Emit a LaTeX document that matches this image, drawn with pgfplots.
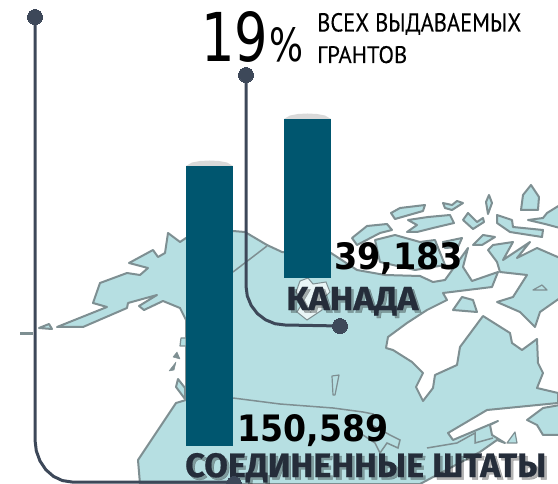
\documentclass[border=0pt]{standalone}
\usepackage{pgfplots}
\pgfplotsset{compat=1.18}
\usepackage{fontspec}
\setmainfont{Noto Sans}
\newfontfamily\condf[FakeBold=0.2]{PT Sans}
\newfontfamily\lightf{DejaVu Sans}
\newfontfamily\numf{DejaVu Sans}
\newfontfamily\headf[BoldFeatures={FakeBold=0.6}]{Fira Sans}
\definecolor{land}{HTML}{B6DFE2}
\definecolor{coast}{HTML}{7E8F92}
\definecolor{bar}{HTML}{00566F}
\definecolor{cap}{HTML}{D9D9D9}
\definecolor{lead}{HTML}{3D4859}
\definecolor{head}{HTML}{252D3A}
\pgfplotsset{isle/.style={draw=coast,fill=land,line width=2pt,line join=round}}
\newcommand{\shadowtext}[5]{% x, baseline, w, h, text
  \node[anchor=base west,inner sep=0pt,text=black,opacity=0.3] at (axis cs:#1+2.5,#2+2.5) {\resizebox{#3pt}{#4pt}{\headf\bfseries #5}};
  \node[anchor=base west,inner sep=0pt,text=head] at (axis cs:#1,#2) {\resizebox{#3pt}{#4pt}{\headf\bfseries #5}};
}
\begin{document}
\begin{tikzpicture}
\useasboundingbox (0,0) rectangle (558pt,484pt);
\begin{axis}[at={(0,0)},anchor=south west,scale only axis,width=558pt,height=484pt,
  xmin=0,xmax=558,ymin=0,ymax=484,y dir=reverse,hide axis,clip=false]
% mainland
\addplot[isle] coordinates {(57,327)(83,327)(127,308)(128,303)(157,295)(139,306)(144,310)(163,301)(180,308)(186,320)(186,400)(176,403)(138,460)(140,484)(420,484)(435,476)(480,452)(497,440)(505,443)(492,435)(490,425)(498,421)(453,440)(448,433)(487,410)(558,403)(558,393)(537,388)(543,373)(538,363)(537,339)(522,350)(512,343)(510,333)(483,316)(460,347)(457,365)(435,375)(433,388)(423,401)(416,387)(423,373)(412,362)(393,350)(386,348)(388,337)(407,323)(427,310)(447,300)(443,293)(492,287)(498,272)(472,281)(463,267)(468,248)(445,280)(433,282)(420,276)(385,275)(357,270)(331,253)(282,252)(267,245)(245,232)(233,231)(186,238)(180,242)(168,233)(165,253)(158,257)(153,250)(129,263)(148,268)(140,275)(127,273)(100,283)(93,303)(107,307)(57,327)} --cycle;
% interior lines
\addplot[draw=coast,line width=1.5pt] coordinates {(233,272)(267,246)};
\addplot[draw=coast,line width=1.5pt] coordinates {(233,398)(280,404)(333,408)(363,412)(373,414)(372,425)(390,435)(400,440)(398,448)(387,443)(380,453)(375,443)(360,433)};
\addplot[draw=coast,line width=1.5pt] coordinates {(427,448)(457,443)(475,433)(475,443)(493,438)};
\addplot[draw=coast,line width=1pt,fill=white!70!land] coordinates {(300,281)(308,278)(313,284)(326,282)(330,292)(322,300)(322,310)(307,320)(297,312)(303,302)(296,292)} --cycle;
% pacific islands
\addplot[isle] coordinates {(39,328)(49,324)(52,329)} --cycle;
\addplot[isle,line width=1.2pt] coordinates {(181,338)(186,338)(186,346)(180,346)} --cycle;
\addplot[isle,fill=coast,line width=.5pt] coordinates {(177,352)(180,359)(173,357)} --cycle;
\addplot[isle,fill=coast,line width=.5pt] coordinates {(176,362)(169,371)(174,370)} --cycle;
\addplot[isle] coordinates {(178,379)(185,388)(185,399)(176,387)} --cycle;
\addplot[isle,line width=1.2pt] coordinates {(332,376)(339,375)(335,395)(333,395)} --cycle;
% arctic islands
\addplot[isle] coordinates {(391,213)(400,208)(425,205)(423,211)(395,219)} --cycle;
\addplot[isle] coordinates {(443,203)(452,205)(457,201)(463,203)(452,210)(445,208)} --cycle;
\addplot[isle] coordinates {(408,220)(428,217)(450,215)(454,223)(433,228)(417,232)(407,232)(417,225)} --cycle;
\addplot[isle] coordinates {(468,213)(477,222)(483,218)(484,222)(473,229)(463,220)} --cycle;
\addplot[isle] coordinates {(489,195)(492,203)(488,214)(486,202)} --cycle;
\addplot[isle] coordinates {(497,215)(512,220)(513,227)(543,230)(542,237)(510,232)(497,223)} --cycle;
\addplot[isle] coordinates {(531,185)(539,197)(538,210)(521,210)(523,195)} --cycle;
\addplot[isle] coordinates {(560,205)(547,213)(543,218)(528,220)(545,224)(560,228)} --cycle;
\addplot[isle] coordinates {(352,238)(367,226)(387,224)(392,230)(380,233)(357,245)} --cycle;
\addplot[isle] coordinates {(375,240)(395,235)(420,242)(435,240)(445,265)(415,270)(380,262)} --cycle;
\addplot[isle] coordinates {(443,242)(462,238)(458,247)(445,248)} --cycle;
\addplot[isle] coordinates {(473,245)(483,235)(495,237)(482,245)} --cycle;
\addplot[isle] coordinates {(488,250)(493,245)(513,242)(503,260)(530,242)(517,258)(537,248)(560,258)(560,298)(540,312)(535,327)(520,312)(497,302)(513,297)(527,275)(500,272)(497,262)} --cycle;
\addplot[isle,line width=1.2pt] coordinates {(533,290)(542,285)(547,290)} --cycle;
\addplot[isle] coordinates {(453,310)(462,297)(473,300)(477,312)} --cycle;
\addplot[isle] coordinates {(527,420)(543,408)(560,405)(560,435)(543,435)(537,425)} --cycle;
\addplot[isle,line width=1.2pt] coordinates {(515,432)(517,443)(507,443)} --cycle;
% bars with caps
\addplot[draw=none,fill=cap] coordinates {(186,166)(192,162.5)(200,161)(209.5,160.5)(219,161)(227,162.5)(233,166)} --cycle;
\addplot[draw=none,fill=cap] coordinates {(284,119)(290,115.5)(298,114)(307.5,113.5)(317,114)(325,115.5)(331,119)} --cycle;
\addplot[draw=none,fill=bar] coordinates {(186,166)(233,166)(233,446)(186,446)} --cycle;
\addplot[draw=none,fill=bar] coordinates {(284,119)(331,119)(331,278)(284,278)} --cycle;
% leader lines
\addplot[draw=coast,line width=3pt] coordinates {(20,334)(33,334)};
\addplot[draw=lead,line width=3pt] coordinates {(35,17)(35,440)(36.3,450.9)(40,461)(45.8,469.7)(53.5,476.4)(62.4,480.6)(72,482)(233,482)};
\addplot[draw=lead,line width=3pt] coordinates {(246,75)(246,286)(247.3,296)(251.2,305.5)(257.4,313.6)(265.5,319.8)(274.9,323.7)(285,325)(340,326)};
\addplot[only marks,mark=*,mark size=7.5pt,mark options={fill=lead,draw=lead,line width=0pt}] coordinates {(35,17)(246,75)(340,326)(234,484)};
% texts
\node[anchor=base west,inner sep=0pt] at (axis cs:201,62) {\resizebox{67pt}{50pt}{\lightf 19}};
\node[anchor=base west,inner sep=0pt] at (axis cs:269,62) {\resizebox{34pt}{34pt}{\lightf\%}};
\node[anchor=base west,inner sep=0pt] at (axis cs:317,31.5) {\resizebox{204pt}{18.5pt}{\condf ВСЕХ ВЫДАВАЕМЫХ}};
\node[anchor=base west,inner sep=0pt] at (axis cs:317,63) {\resizebox{90pt}{17pt}{\condf ГРАНТОВ}};
\node[anchor=base west,inner sep=0pt] at (axis cs:334,270) {\resizebox{129pt}{27pt}{\numf\bfseries 39,183}};
\node[anchor=base west,inner sep=0pt] at (axis cs:237,442) {\resizebox{151pt}{27pt}{\numf\bfseries 150,589}};
\shadowtext{286}{310}{132}{23}{КАНАДА}
\shadowtext{185}{477}{361}{24}{СОЕДИНЕННЫЕ ШТАТЫ}
\end{axis}
\end{tikzpicture}
\end{document}
